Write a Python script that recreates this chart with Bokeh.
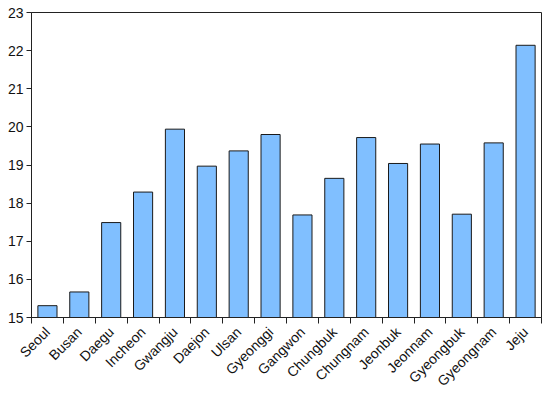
from bokeh.plotting import figure
from bokeh.models import FixedTicker, ColumnDataSource
from bokeh.embed import file_html
from bokeh.resources import INLINE
import math

regions = ["Seoul", "Busan", "Daegu", "Incheon", "Gwangju", "Daejon", "Ulsan",
           "Gyeonggi", "Gangwon", "Chungbuk", "Chungnam", "Jeonbuk", "Jeonnam",
           "Gyeongbuk", "Gyeongnam", "Jeju"]
values = [15.31, 15.67, 17.49, 18.29, 19.94, 18.97, 19.37, 19.80, 17.69,
          18.65, 19.72, 19.04, 19.55, 17.71, 19.58, 22.14]
y_ticks = [15, 16, 17, 18, 19, 20, 21, 22, 23]

n = len(regions)
centers = [i + 0.5 for i in range(n)]
bounds = [float(i) for i in range(n + 1)]

src = ColumnDataSource(dict(x=centers, top=values, name=regions))

p = figure(output_backend="svg", toolbar_location=None,
           x_range=(0, n), y_range=(15, 23),
           frame_width=510, frame_height=305,
           min_border_left=31, min_border_top=12, min_border_right=1,
           min_border_bottom=60)

p.vbar(x="x", top="top", bottom=15, width=0.6, source=src,
       fill_color="#80bfff", line_color="#1a1a1a", line_width=1)

p.xgrid.visible = False
p.ygrid.visible = False
p.outline_line_color = "#222222"
p.outline_line_width = 1

font = "Liberation Sans"
xa = p.xaxis[0]
xa.ticker = FixedTicker(ticks=centers, minor_ticks=bounds)
xa.major_label_overrides = {c: r for c, r in zip(centers, regions)}
xa.major_tick_line_color = None
xa.major_tick_out = 0
xa.major_tick_in = 0
xa.minor_tick_line_color = "#222222"
xa.minor_tick_out = 6
xa.minor_tick_in = 0
xa.major_label_orientation = math.pi / 4
xa.major_label_text_font = font
xa.major_label_text_font_size = "14px"
xa.major_label_text_color = "#111111"
xa.axis_line_color = "#222222"
xa.major_label_standoff = 6

ya = p.yaxis[0]
ya.ticker = FixedTicker(ticks=y_ticks)
ya.major_tick_out = 5
ya.major_tick_in = 0
ya.minor_tick_line_color = None
ya.major_label_text_font = font
ya.major_label_text_font_size = "14px"
ya.major_label_text_color = "#111111"
ya.axis_line_color = "#222222"
ya.major_tick_line_color = "#222222"
ya.major_label_standoff = 3

open("out.html", "w").write(file_html(p, INLINE))
